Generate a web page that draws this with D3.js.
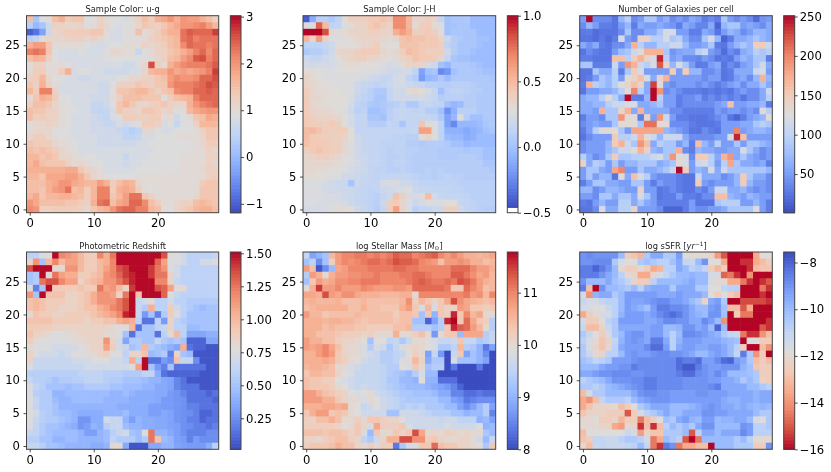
<!DOCTYPE html>
<html><head><meta charset="utf-8">
<script src="https://cdnjs.cloudflare.com/ajax/libs/d3/7.8.5/d3.min.js"></script>
<style>
html,body{margin:0;padding:0;background:#fff}
svg{display:block;font-family:"DejaVu Sans";filter:blur(0.35px)}
</style></head><body><svg id="c" width="831" height="472"></svg>
<script>
// Every table: rows listed top to bottom (y = 29 down to y = 0), x = 0..29.
// u-g in tenths of a magnitude
const ugRows=[
[15,2,9,10,15,17,13,14,14,9,9,12,10,9,9,8,10,12,15,13,17,18,20,17,20,19,19,17,15,12],
[4,0,2,7,12,12,11,11,12,9,10,12,11,9,8,9,10,11,14,13,12,14,16,18,20,20,21,22,19,16],
[-10,-8,-3,7,11,12,13,13,13,13,14,14,10,8,8,9,10,15,10,11,13,15,17,17,23,25,24,24,24,27],
[4,5,10,11,11,11,12,12,12,11,12,11,9,8,8,9,9,10,10,12,13,14,15,16,23,24,22,23,23,23],
[17,19,19,14,10,10,10,10,10,9,8,8,8,9,9,10,10,10,12,11,12,13,15,16,21,24,23,23,22,23],
[22,23,22,14,9,8,8,8,9,8,8,8,9,11,11,10,10,6,9,10,12,12,14,15,17,19,22,24,21,24],
[15,17,16,12,9,8,8,8,8,8,8,8,9,9,9,9,9,9,9,10,11,12,15,16,19,21,25,26,22,24],
[10,12,12,10,10,10,9,8,8,8,8,8,8,8,8,7,7,9,11,26,12,10,17,19,21,22,22,22,23,25],
[10,13,13,10,10,13,17,8,9,9,8,8,7,7,7,7,8,8,11,16,17,17,20,18,19,18,19,20,22,27],
[12,13,16,11,9,9,8,8,7,7,8,8,8,8,9,10,11,11,12,12,14,15,19,21,20,20,21,24,24,26],
[14,12,17,12,10,8,8,8,8,8,8,7,7,9,12,12,12,14,13,12,14,14,20,22,22,22,23,24,26,25],
[16,13,22,22,12,8,8,8,8,8,8,7,7,9,14,14,15,16,16,14,12,14,15,21,22,22,24,24,25,24],
[10,14,17,16,13,9,9,8,8,8,7,7,7,10,12,15,15,15,14,14,14,9,13,15,16,17,22,24,24,24],
[12,15,15,14,11,10,9,8,8,8,6,6,7,9,14,16,14,11,11,12,13,14,12,11,11,17,20,22,23,24],
[15,14,14,12,12,10,9,9,8,8,6,5,6,8,14,12,12,11,14,14,13,11,12,9,10,16,18,19,20,20],
[15,12,13,12,12,10,9,8,8,8,7,6,5,8,9,13,13,12,12,13,13,10,10,7,9,10,14,15,18,17],
[10,11,11,12,11,10,9,8,8,8,7,7,6,6,8,7,8,9,13,13,12,8,9,6,9,9,12,16,16,16],
[10,11,11,11,9,9,9,8,8,8,7,7,7,7,6,5,4,5,11,11,9,8,8,9,9,9,10,12,14,14],
[11,13,13,11,10,9,9,8,8,8,8,7,7,7,7,5,5,6,8,8,9,9,9,10,10,10,10,11,14,14],
[14,13,13,13,11,10,10,9,8,8,8,7,7,7,7,7,7,8,8,9,9,9,9,9,9,9,10,11,13,13],
[15,14,15,14,13,11,10,9,8,8,8,8,8,8,8,8,8,8,8,8,9,9,9,9,9,9,10,10,12,11],
[16,16,14,15,14,11,11,10,10,9,9,8,8,8,8,6,8,8,8,9,9,9,9,9,10,10,10,10,12,12],
[16,18,15,14,14,14,12,10,11,10,9,9,8,8,8,7,8,8,9,9,9,9,9,9,10,10,10,10,12,11],
[17,17,17,17,17,17,18,18,14,12,11,10,8,8,8,8,8,9,9,9,9,9,9,9,10,10,10,11,12,12],
[16,16,14,18,18,18,19,19,17,14,11,10,9,9,9,9,9,10,10,10,10,10,10,10,10,10,10,10,12,13],
[15,15,15,17,18,20,20,18,17,16,16,19,17,13,15,17,16,11,10,10,10,10,10,10,10,10,10,13,14,14],
[15,15,14,17,19,20,23,15,16,13,16,22,22,13,17,18,17,13,10,9,10,10,10,10,10,10,10,14,14,14],
[16,18,14,16,16,17,17,16,15,13,16,22,22,14,16,19,23,23,14,12,10,10,10,10,10,10,11,14,14,14],
[20,18,15,15,15,15,14,14,13,12,17,23,24,15,18,19,24,24,21,15,13,10,10,11,12,12,15,16,15,14],
[21,20,12,12,13,13,13,13,12,11,14,16,17,20,23,24,24,22,22,16,15,9,9,11,13,14,16,17,17,15]];
// J-H in hundredths of a magnitude
const jhRows=[
[-40,-10,10,10,5,12,28,38,38,38,42,42,45,42,68,68,52,35,35,38,35,15,0,3,3,5,-3,-3,-3,-3],
[25,25,80,50,12,15,25,30,35,35,42,45,40,35,68,68,52,30,38,40,30,25,0,2,3,3,-3,-3,-3,-3],
[100,100,100,85,32,30,30,35,35,35,38,38,35,35,55,62,55,38,40,42,38,28,0,3,3,3,3,-3,-3,-3],
[52,35,62,38,25,25,28,30,33,35,35,35,32,30,35,45,48,45,45,42,42,35,18,8,5,3,3,0,0,-3],
[12,12,12,15,20,28,28,28,30,33,35,40,30,28,28,45,45,45,42,42,42,38,12,8,3,3,3,0,-3,-3],
[5,8,8,12,20,32,35,35,38,42,42,40,32,30,32,38,48,45,42,38,38,38,20,8,3,3,0,-3,-3,-3],
[20,14,15,20,22,28,32,35,38,38,35,32,30,28,30,35,38,45,42,42,40,32,14,3,0,0,-3,-3,-3,-3],
[22,20,22,22,22,25,30,30,30,28,28,28,26,22,24,30,35,35,36,22,20,0,-5,5,5,5,3,0,-3,-3],
[30,30,28,25,25,28,28,28,28,26,26,24,22,20,20,22,22,12,-15,0,3,-25,-20,0,5,5,5,3,0,0],
[36,30,28,26,26,26,26,26,25,22,20,18,15,16,22,24,12,8,-18,-5,-3,5,-3,5,5,5,5,5,5,3],
[35,33,30,28,28,26,26,26,20,16,15,12,14,18,22,22,18,16,14,10,10,8,8,10,10,10,8,5,5,5],
[40,33,30,30,28,28,26,26,18,14,10,5,5,14,20,20,30,32,30,22,16,0,10,12,12,10,8,8,5,5],
[40,32,32,30,28,28,28,24,16,12,10,3,3,14,20,20,20,20,22,18,16,8,10,10,10,8,8,5,5,5],
[42,32,30,30,28,28,28,22,12,10,5,3,5,8,10,14,5,5,14,16,12,12,0,-5,-3,8,8,5,5,5],
[40,35,32,32,30,28,26,20,10,12,0,0,3,10,14,16,14,12,14,8,8,0,-22,-8,10,10,10,5,5,5],
[42,38,35,35,35,32,28,22,14,14,3,3,0,10,14,16,14,14,16,14,12,5,-15,-5,25,8,0,0,5,5],
[42,40,40,38,42,38,28,22,15,15,8,8,8,14,12,3,14,14,45,30,25,12,-15,-25,-5,-5,-5,-3,3,5],
[48,50,45,40,38,40,40,28,15,14,14,14,14,14,14,14,14,16,60,60,26,12,-8,-8,-8,-12,-8,-5,0,3],
[48,42,40,38,38,38,35,28,20,16,14,14,14,14,12,12,10,10,30,35,28,12,-3,-5,-5,-10,-8,-3,-3,-3],
[46,42,42,42,38,38,32,26,20,16,14,14,12,12,12,12,8,8,6,8,8,8,5,0,0,-5,-3,-3,-3,-3],
[38,42,45,42,40,38,32,26,20,16,14,14,12,10,12,12,10,10,8,8,8,6,6,6,5,3,5,5,0,0],
[33,35,38,38,35,32,28,25,20,18,15,14,12,10,10,12,10,8,8,8,8,6,6,6,8,8,8,5,0,0],
[32,33,33,32,32,30,28,25,22,18,15,14,12,10,12,12,10,8,8,8,8,8,8,8,8,8,8,8,3,3],
[32,32,30,30,28,28,25,22,20,18,15,12,12,10,10,12,10,8,8,10,8,10,8,8,8,8,8,8,8,5],
[30,30,28,28,26,25,20,20,18,16,15,12,14,14,15,14,14,12,10,10,8,10,12,10,10,8,8,8,8,8],
[25,25,25,22,20,18,18,2,18,16,14,15,22,24,24,20,18,14,12,12,12,12,12,12,10,10,10,10,10,10],
[26,26,25,22,20,20,18,18,16,14,12,14,18,20,22,24,28,18,16,16,14,14,14,12,12,10,10,10,10,10],
[25,26,25,24,24,22,20,18,16,14,12,10,14,20,45,38,24,22,30,48,22,16,14,14,14,12,10,10,10,10],
[25,25,24,24,24,24,22,18,16,14,12,10,18,38,42,32,25,18,22,28,25,26,28,28,16,14,12,10,10,10],
[22,22,22,24,26,30,30,28,20,16,12,8,14,40,60,36,25,10,14,15,18,18,38,38,20,15,12,10,8,8]];
// galaxies per cell
const countRows=[
[50,250,40,40,40,25,70,95,40,50,85,85,50,65,40,50,40,60,50,30,40,30,85,50,40,50,40,20,45,50],
[40,70,50,30,30,25,50,70,30,60,50,50,60,50,45,30,60,50,35,35,60,15,70,85,85,50,60,50,40,60],
[28,30,20,25,25,25,40,85,40,40,60,60,85,120,120,50,50,30,30,60,50,25,50,70,60,40,50,70,70,60],
[25,25,20,28,20,30,120,50,40,140,140,95,95,120,85,95,60,40,40,85,120,70,15,30,60,60,70,85,70,60],
[60,45,60,30,25,40,40,60,170,95,70,70,95,95,110,110,75,50,50,60,85,30,25,50,70,85,70,150,150,110],
[25,40,30,25,25,50,75,85,110,130,170,170,170,85,45,55,60,60,95,110,50,40,20,40,30,60,70,95,85,95],
[30,30,25,25,25,160,160,95,150,170,140,120,240,95,50,60,40,40,35,50,40,25,30,25,50,70,60,85,85,30],
[85,85,30,30,30,110,50,190,170,110,95,120,220,140,70,120,85,50,28,30,50,60,25,40,30,50,60,85,110,60],
[25,25,85,60,60,95,30,85,150,120,50,50,50,50,150,50,150,70,70,40,40,50,25,30,60,60,60,110,120,50],
[25,30,50,85,70,95,50,130,140,160,120,60,140,170,50,50,50,50,50,40,50,50,25,30,50,60,40,70,170,70],
[30,170,95,85,70,95,130,140,160,140,60,230,130,50,40,50,50,50,40,50,40,30,40,50,60,40,60,60,85,60],
[25,50,50,60,60,70,95,130,200,95,60,250,190,40,50,40,30,30,30,25,30,25,30,25,40,50,40,40,60,110],
[60,70,70,95,130,95,60,250,30,30,70,250,95,50,50,30,40,40,50,30,40,30,40,30,40,25,40,40,60,95],
[60,60,70,70,95,110,110,120,120,60,60,70,85,50,50,30,40,40,40,40,40,50,60,160,50,50,60,60,70,30],
[60,60,50,170,85,85,140,170,60,170,60,60,60,60,40,40,30,30,30,30,30,50,40,50,50,40,50,40,130,95],
[30,50,50,40,85,85,190,130,130,30,140,50,190,110,50,30,30,25,25,25,30,40,50,25,15,30,50,60,70,130],
[40,50,60,50,50,85,130,130,130,85,210,210,130,130,40,40,40,30,25,25,25,30,50,50,50,60,60,85,95,85],
[30,50,95,130,130,130,85,50,180,180,180,180,180,70,60,50,40,25,25,40,30,25,50,50,200,50,60,70,70,60],
[25,40,50,50,50,150,95,95,110,170,130,110,70,110,110,110,60,40,40,40,40,50,50,120,240,160,50,50,50,50],
[40,50,50,50,70,150,170,110,85,190,160,60,95,85,85,50,70,30,160,70,50,95,50,50,85,50,85,85,70,60],
[40,50,50,50,70,85,110,110,130,170,140,70,60,85,85,170,40,30,70,60,60,50,50,60,60,120,85,60,40,50],
[95,60,40,50,85,150,85,85,95,95,95,110,120,85,190,130,120,40,150,150,95,60,170,190,60,85,60,50,40,50],
[140,60,95,85,50,85,50,70,70,85,85,85,60,70,85,130,120,50,110,120,95,50,95,180,85,60,60,50,60,30],
[50,85,85,60,50,180,200,50,50,85,60,60,70,85,110,250,150,50,70,60,120,60,110,85,85,85,85,85,85,70],
[50,85,50,70,70,25,130,60,160,120,95,50,40,40,40,30,25,25,110,60,60,60,40,50,70,150,85,60,60,40],
[30,50,85,85,60,60,50,50,85,85,50,30,50,40,40,30,25,25,150,50,40,50,50,50,70,150,70,50,50,40],
[70,70,40,50,70,70,60,50,50,140,50,50,25,30,40,30,25,25,40,30,50,110,110,60,60,70,50,40,50,40],
[50,50,40,85,85,60,85,85,60,120,85,50,25,30,30,50,30,30,25,40,40,160,160,70,60,50,70,60,50,50],
[30,25,50,70,50,50,95,95,60,85,60,50,30,30,30,30,30,50,25,25,25,85,95,95,95,50,50,70,50,30],
[25,25,40,120,60,60,95,95,140,50,50,50,40,15,15,15,30,50,40,40,50,50,60,85,85,85,85,130,50,30]];
// photometric redshift in hundredths
const zRows=[
[60,60,75,75,150,120,115,110,100,90,90,120,105,125,150,150,150,150,150,150,150,135,75,75,70,60,60,60,60,65],
[85,115,50,100,120,100,110,110,100,90,90,100,105,120,150,150,150,150,150,150,130,110,75,75,70,60,60,70,70,75],
[135,150,150,150,80,80,115,115,100,90,90,100,110,120,135,140,150,150,150,140,125,115,75,70,60,60,60,60,60,60],
[50,55,150,80,125,110,105,105,90,90,95,100,115,120,130,140,145,150,150,140,125,125,85,70,60,60,60,60,60,60],
[50,55,125,135,135,120,110,110,85,95,100,105,115,115,125,135,145,150,150,150,120,120,85,65,60,60,60,60,60,60],
[80,20,50,150,90,90,90,90,95,90,90,125,110,115,100,85,140,150,150,150,135,130,110,80,80,60,60,60,60,60],
[115,50,150,95,95,95,85,85,90,95,105,115,115,110,85,125,150,95,150,150,150,130,75,65,60,60,60,60,60,60],
[95,100,95,90,90,90,85,85,90,95,105,115,115,115,125,135,150,65,70,80,60,60,70,60,60,55,55,55,55,55],
[95,100,95,90,90,85,85,85,90,95,95,105,110,120,125,135,150,65,55,105,60,60,90,70,60,55,50,45,50,50],
[80,95,90,90,85,85,90,90,90,90,95,100,105,110,120,145,150,65,30,50,20,55,90,75,60,50,50,50,50,50],
[95,95,95,95,90,90,90,90,90,85,90,90,95,95,105,110,105,60,15,15,60,30,85,60,55,50,50,50,50,50],
[90,90,90,90,85,85,85,85,85,85,85,85,85,80,75,75,100,15,50,50,60,65,85,60,60,45,45,50,50,50],
[95,85,85,80,75,75,80,80,85,85,85,85,80,80,75,50,15,50,50,50,15,60,80,100,60,35,35,35,40,40],
[90,80,75,75,75,75,75,80,80,85,85,85,115,85,70,35,55,55,50,50,65,55,50,55,50,10,10,10,35,35],
[80,75,75,75,70,70,70,70,75,80,85,85,110,90,70,65,50,55,100,55,50,45,40,35,105,15,10,10,5,5],
[85,75,70,70,70,65,70,75,75,80,80,85,90,75,75,60,85,85,95,45,50,55,20,85,50,45,5,5,5,5],
[85,65,65,65,65,65,65,70,70,70,75,75,75,70,70,65,105,60,150,15,15,30,25,95,65,65,25,5,5,5],
[75,65,65,65,65,65,65,65,65,70,70,70,70,70,70,70,75,110,150,50,30,20,50,15,15,15,15,15,5,5],
[58,58,58,58,58,58,58,58,62,62,62,62,58,58,58,55,55,55,62,62,38,15,10,10,10,10,10,5,5,5],
[65,58,58,55,50,55,55,58,58,62,62,62,58,55,55,50,50,50,46,42,42,36,34,22,15,5,5,5,5,5],
[72,62,58,50,50,50,46,50,50,55,55,55,55,50,50,46,46,46,42,42,36,36,34,22,16,15,15,5,5,5],
[75,58,55,55,42,42,46,46,46,46,46,46,46,42,42,46,42,38,38,38,36,36,30,28,22,15,15,15,10,15],
[75,65,55,55,46,42,42,46,46,46,46,46,42,42,42,42,38,38,38,38,36,30,30,28,26,15,15,15,15,10],
[75,62,55,55,50,42,42,42,42,42,42,42,42,42,38,38,38,38,38,32,32,30,30,28,26,20,20,15,15,15],
[75,70,58,55,50,46,46,42,38,38,38,38,42,42,42,46,38,38,38,32,32,36,34,28,26,25,20,10,10,15],
[75,65,58,55,55,50,46,42,28,28,38,38,70,65,65,42,32,42,38,38,36,36,34,28,26,20,20,10,15,15],
[75,62,55,50,50,46,42,38,28,32,42,38,58,65,65,46,42,42,38,38,36,36,34,32,26,25,20,20,15,20],
[65,62,55,50,46,46,46,46,42,32,32,42,46,58,65,70,50,46,75,125,42,42,36,32,26,20,20,20,25,25],
[58,58,50,50,42,42,46,46,42,42,42,42,46,62,55,55,55,46,55,125,95,46,42,32,30,20,30,25,25,25],
[65,65,58,50,50,46,42,42,42,42,38,38,42,80,80,36,5,5,5,36,36,42,42,34,32,30,30,30,38,60]];
// log stellar mass in tenths of a dex
const massRows=[
[96,88,90,92,105,108,110,110,111,111,110,111,110,111,113,112,112,110,111,112,113,110,108,110,108,106,106,105,106,107],
[92,95,86,92,102,108,110,109,110,111,112,112,111,112,114,113,113,112,110,109,108,104,108,108,109,108,106,106,104,105],
[108,104,81,86,91,107,108,110,110,110,111,111,111,111,112,112,111,111,110,110,110,110,110,112,112,112,110,108,108,106],
[94,108,106,100,106,108,108,109,109,110,110,111,110,110,110,111,111,112,112,111,110,110,110,113,113,111,109,107,108,105],
[92,103,108,106,107,109,109,110,110,111,111,111,110,110,110,110,111,112,113,112,111,111,112,111,114,113,111,108,106,105],
[100,106,115,108,108,110,108,108,108,110,109,108,108,108,109,109,108,112,112,112,112,112,111,103,103,112,110,108,104,105],
[107,107,106,114,108,107,109,109,107,106,106,106,105,105,105,106,106,100,110,110,110,110,110,110,110,111,108,109,105,110],
[105,106,105,105,105,106,104,104,104,105,104,104,104,104,104,105,109,102,105,103,101,103,107,114,109,107,106,105,104,105],
[104,105,106,106,106,106,106,104,104,106,104,104,103,103,103,106,108,103,98,105,98,103,101,101,108,107,103,103,102,103],
[108,105,105,103,104,104,104,104,105,104,104,104,104,104,102,104,104,103,92,103,90,103,102,116,103,110,105,107,100,100],
[106,106,106,105,106,106,105,105,104,103,104,104,104,104,103,104,104,92,92,82,88,94,116,118,103,112,107,103,102,94],
[106,106,106,104,105,104,104,104,103,103,102,102,102,102,104,104,105,94,94,94,92,94,103,116,113,112,108,105,100,94],
[106,106,104,104,104,103,102,102,102,101,102,100,100,100,106,100,100,102,104,100,87,100,103,103,91,107,107,107,94,96],
[108,106,106,104,104,102,101,101,100,99,92,99,99,95,96,93,96,100,100,99,98,96,96,97,103,96,96,93,94,96],
[108,107,108,110,107,104,101,100,100,98,94,98,97,93,96,98,100,101,100,99,98,93,93,95,105,94,93,90,84,88],
[106,106,108,110,108,103,101,100,100,98,97,96,94,94,95,96,99,102,100,88,96,87,80,96,103,88,92,90,86,80],
[106,106,106,107,106,103,102,100,99,97,96,96,94,94,95,98,100,105,101,89,93,93,80,98,92,92,92,90,88,80],
[105,106,106,105,104,100,100,98,97,96,96,96,95,94,94,99,98,103,100,92,94,94,80,84,80,80,80,84,80,80],
[103,105,105,104,104,101,99,98,96,96,96,96,95,94,93,92,91,94,98,91,91,80,80,80,80,80,80,80,80,80],
[104,103,103,102,102,99,98,97,96,96,96,96,95,93,93,91,91,90,99,90,90,83,83,83,80,80,80,80,80,80],
[104,103,103,103,102,100,99,97,96,97,96,96,95,94,93,92,91,91,91,90,89,88,87,85,82,80,80,80,80,80],
[108,108,106,104,103,102,101,99,98,99,100,97,96,95,94,93,93,92,92,92,91,89,89,85,85,83,83,84,83,83],
[108,108,108,106,106,103,101,100,100,98,100,99,97,96,95,94,93,93,93,93,93,91,91,88,87,84,85,86,86,86],
[106,106,106,107,107,106,107,100,99,96,97,99,97,96,95,94,95,94,95,93,93,93,91,91,88,86,88,91,94,88],
[103,106,108,108,103,104,103,100,99,97,97,97,97,92,92,97,97,97,96,95,94,94,94,92,92,90,91,91,94,85],
[102,101,104,104,106,104,100,100,102,100,103,103,102,101,101,99,97,97,97,97,97,96,97,97,95,95,95,90,91,88],
[102,102,102,102,102,101,99,100,103,101,98,107,102,102,102,103,98,97,97,97,97,97,98,97,97,97,97,99,90,91],
[104,104,104,103,104,104,103,101,103,98,91,103,100,100,103,101,103,114,107,100,101,100,102,101,100,101,100,100,93,91],
[101,101,100,102,103,104,104,102,101,95,93,97,101,106,106,114,114,109,109,102,103,101,100,100,101,101,100,97,91,96],
[102,103,103,103,104,106,104,104,101,100,102,100,102,102,84,93,98,98,103,103,112,104,103,103,101,101,100,99,93,103]];
// -log sSFR in tenths of a dex (120 means -12.0)
const ssfrRows=[
[90,88,90,90,90,90,100,125,128,132,105,95,95,105,105,92,118,120,120,120,122,138,150,160,160,160,160,135,118,118],
[90,90,88,88,88,105,115,118,118,105,102,105,108,108,102,95,110,112,100,90,118,118,135,160,160,155,155,135,130,125],
[85,85,80,85,90,100,120,125,125,120,125,135,132,108,108,95,100,108,105,110,125,132,125,160,160,160,155,130,128,128],
[85,85,85,90,95,100,108,120,122,135,135,122,115,110,105,100,100,98,100,100,115,115,148,145,155,160,140,160,160,160],
[90,100,100,100,95,102,105,110,122,125,125,108,100,100,100,100,98,95,100,100,115,120,120,135,135,145,155,160,155,150],
[85,130,160,90,100,100,102,105,100,108,98,95,95,95,105,95,95,95,105,105,118,118,110,108,108,160,160,160,145,155],
[115,140,98,95,95,105,100,92,92,92,92,92,95,95,95,92,95,95,95,100,118,125,118,125,130,160,160,160,155,160],
[112,115,115,110,108,108,100,92,94,94,92,90,88,88,92,92,95,100,105,122,95,92,105,160,160,152,152,152,152,155],
[115,115,118,118,112,108,100,92,95,98,102,92,85,85,88,88,90,95,100,100,92,90,102,130,130,150,135,160,160,160],
[135,125,120,115,115,108,98,92,92,92,95,92,88,85,82,85,90,95,98,100,90,90,102,160,125,145,145,160,160,160],
[115,125,125,118,108,105,92,92,92,92,95,95,92,88,88,90,90,95,95,88,92,100,140,160,160,160,160,160,160,155],
[112,130,130,122,112,105,95,95,95,95,95,92,92,100,100,98,90,90,95,92,100,80,100,160,160,160,160,160,150,155],
[105,112,118,125,115,105,100,92,90,90,95,92,92,100,108,100,88,88,90,92,95,98,105,110,112,145,155,155,140,130],
[108,115,120,128,122,110,98,92,90,92,95,85,85,95,108,98,92,92,92,95,95,95,98,100,102,160,118,118,125,125],
[105,115,122,128,120,108,95,92,92,92,88,82,82,92,108,95,92,92,95,95,92,92,95,100,108,125,160,160,130,140],
[105,112,120,122,108,108,100,92,90,92,92,90,88,88,90,90,92,95,100,100,95,92,95,100,110,85,105,140,125,160],
[102,105,110,108,105,92,92,92,90,88,88,88,88,88,88,82,85,85,82,92,92,88,82,80,92,95,105,130,125,130],
[100,100,100,95,92,92,90,90,85,88,88,88,88,88,88,82,78,78,85,90,92,92,90,90,90,98,102,128,125,125],
[95,95,92,90,90,88,88,88,90,90,88,88,88,88,88,85,82,82,88,90,92,88,92,100,100,100,102,105,125,125],
[108,105,102,100,95,90,90,90,88,88,85,85,88,88,88,88,90,90,90,90,92,92,95,95,98,105,100,105,122,125],
[105,105,108,105,100,98,95,92,90,88,85,85,88,88,88,88,90,90,90,90,88,85,95,95,95,95,100,100,105,108],
[130,115,105,105,100,100,100,100,95,90,88,88,90,90,92,92,92,92,90,90,92,92,92,95,95,95,95,98,95,95],
[135,140,130,110,105,105,105,108,100,95,92,90,90,90,92,92,92,92,92,92,92,92,95,98,98,95,95,98,95,95],
[135,128,122,122,122,120,130,125,118,105,100,95,95,95,100,100,100,98,95,92,90,92,95,95,98,95,98,100,98,100],
[128,122,122,122,125,125,125,150,125,115,108,105,100,95,100,100,95,95,95,90,90,92,92,95,95,95,95,100,105,105],
[120,120,118,125,125,122,132,125,125,145,130,125,118,102,105,95,92,98,100,92,92,100,98,98,95,95,100,115,118,105],
[120,120,120,122,122,135,138,120,122,155,130,155,130,108,100,105,100,105,95,90,90,100,100,100,100,90,92,108,108,105],
[130,118,118,118,118,118,118,112,115,138,122,128,128,105,105,105,100,150,108,95,95,100,95,95,95,88,92,108,108,108],
[128,125,110,110,112,112,108,105,105,108,115,145,135,100,105,108,150,160,145,100,100,100,100,100,105,100,108,120,120,120],
[120,130,112,110,112,112,112,110,108,100,110,145,155,85,90,145,135,135,130,130,160,100,100,100,105,105,105,125,125,90]];

const xTickValues=[0,10,20];
const yTickValues=[0,5,10,15,20,25];
const cmapStops=["#3b4cc0","#5977e3","#7b9ff9","#9ebeff","#c0d4f5","#dddcdc","#f2cbb7","#f7ac8e","#ee8468","#d44e41","#b40426"];
const coolwarm=d3.scaleLinear().domain(d3.range(11).map(i=>i/10)).range(cmapStops).interpolate(d3.interpolateRgb);

const colX=[{l:26.5,r:218.7,cl:230.3,cr:241},{l:303,r:495.7,cl:507.3,cr:518},{l:579.7,r:772.3,cl:783.7,cr:794.7}];
const rowY=[{t:15.7,b:212.7},{t:252,b:449.3}];
const panels=[
 {col:0,row:0,title:["Sample Color: u-g"],rows:ugRows,k:0.1,lo:-1.19,hi:3.02,ticks:[-1,0,1,2,3],fmt:d3.format("d")},
 {col:1,row:0,title:["Sample Color: J-H"],rows:jhRows,k:0.01,lo:-0.5,hi:1.0,vmin:-0.46,ticks:[-0.5,0,0.5,1],fmt:d3.format(".1f")},
 {col:2,row:0,title:["Number of Galaxies per cell"],rows:countRows,k:1,lo:1,hi:251,ticks:[50,100,150,200,250],fmt:d3.format("d")},
 {col:0,row:1,title:["Photometric Redshift"],rows:zRows,k:0.01,lo:0.015,hi:1.51,ticks:[0.25,0.5,0.75,1,1.25,1.5],fmt:d3.format(".2f")},
 {col:1,row:1,title:["log Stellar Mass [","M","⊙","]"],rows:massRows,k:0.1,lo:8,hi:11.78,ticks:[8,9,10,11],fmt:d3.format("d")},
 {col:2,row:1,title:["log sSFR [","yr","−1","]"],rows:ssfrRows,k:-0.1,lo:-16,hi:-7.55,rev:true,ticks:[-16,-14,-12,-10,-8],fmt:d3.format("d")}
];
const svg=d3.select("#c");
const ink="#444";
function style(g,fs){
 g.selectAll("text").attr("fill","#000").style("font-size",fs+"px").style("font-family","DejaVu Sans");
 g.selectAll("line").attr("stroke","#222").attr("stroke-width",0.8);
 g.select(".domain").remove();
}
panels.forEach(p=>{
 const c=colX[p.col],r=rowY[p.row];
 const x=d3.scaleLinear().domain([-0.5,29.5]).range([c.l,c.r]);
 const y=d3.scaleLinear().domain([-0.5,29.5]).range([r.b,r.t]);
 const vmin=p.vmin===undefined?p.lo:p.vmin;
 const t=d3.scaleLinear().domain([vmin,p.hi]).range(p.rev?[1,0]:[0,1]).clamp(true);
 const g=svg.append("g");
 const lap=0.6;
 p.rows.forEach((vals,i)=>{
  const yi=29-i;
  g.selectAll(null).data(vals).join("rect")
   .attr("x",(d,j)=>x(j-0.5)).attr("y",y(yi+0.5))
   .attr("width",(d,j)=>x(1)-x(0)+(j<29?lap:0)).attr("height",y(0)-y(1)+(yi>0?lap:0))
   .attr("fill",d=>coolwarm(t(d*p.k)));
 });
 g.append("rect").attr("x",c.l).attr("y",r.t).attr("width",c.r-c.l).attr("height",r.b-r.t)
  .attr("fill","none").attr("stroke",ink).attr("stroke-width",1);
 const ax=svg.append("g").attr("transform",`translate(0,${r.b})`)
  .call(d3.axisBottom(x).tickValues(xTickValues).tickSize(3).tickPadding(3.5).tickFormat(d3.format("d")));
 style(ax,11.6);
 const ay=svg.append("g").attr("transform",`translate(${c.l},0)`)
  .call(d3.axisLeft(y).tickValues(yTickValues).tickSize(3).tickPadding(3.5).tickFormat(d3.format("d")));
 style(ay,11.6);
 const tt=svg.append("text").attr("x",(c.l+c.r)/2).attr("y",r.t-3.4).attr("text-anchor","middle")
  .attr("fill","#222").style("font-size","8.3px");
 tt.append("tspan").text(p.title[0]);
 if(p.title.length>1){
  tt.append("tspan").attr("font-style","italic").text(p.title[1]);
  const sup=p.title[2]==="−1";
  tt.append("tspan").attr("dy",sup?-2.8:1.3).style("font-size","5.8px").text(p.title[2]);
  tt.append("tspan").attr("dy",sup?2.8:-1.3).text(p.title[3]);
 }
 const cs=d3.scaleLinear().domain([p.lo,p.hi]).range([r.b,r.t]);
 const steps=d3.range(256).map(i=>p.lo+(p.hi-p.lo)*i/256);
 const dv=(p.hi-p.lo)/256;
 svg.append("g").selectAll("rect").data(steps).join("rect")
  .attr("x",c.cl).attr("width",c.cr-c.cl)
  .attr("y",d=>cs(d+dv)).attr("height",cs(0)-cs(dv)+0.6)
  .attr("fill",d=>d<vmin?"#fff":coolwarm(t(d)));
 svg.append("rect").attr("x",c.cl).attr("y",r.t).attr("width",c.cr-c.cl).attr("height",r.b-r.t)
  .attr("fill","none").attr("stroke",ink).attr("stroke-width",1);
 const ac=svg.append("g").attr("transform",`translate(${c.cr},0)`)
  .call(d3.axisRight(cs).tickValues(p.ticks).tickSize(3).tickPadding(2).tickFormat(p.fmt));
 style(ac,11.6);
});
</script></body></html>
